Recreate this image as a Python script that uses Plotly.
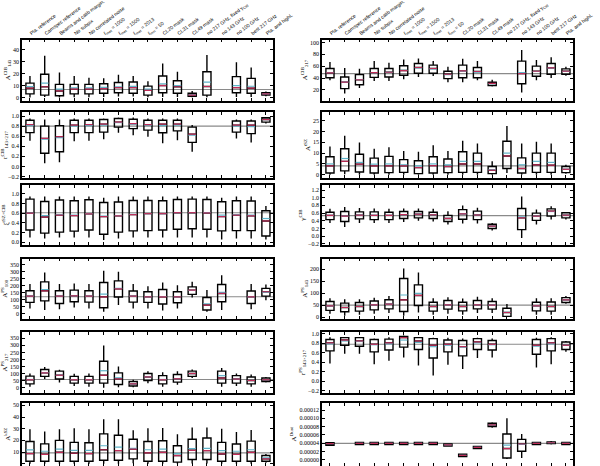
import plotly.graph_objects as go
from plotly.subplots import make_subplots

categories = ["Pla. reference", "Camspec reference", "Beams and calib margin.", "No subpix",
              "No correlated noise", "ℓ<sub>max</sub> = 1000", "ℓ<sub>max</sub> = 1500",
              "ℓ<sub>max</sub> = 2013", "ℓ<sub>min</sub> = 50", "CL20 mask", "CL31 mask", "CL49 mask",
              "no 217 GHz, fixed γ<sub>CIB</sub>", "no 143 GHz", "no 100 GHz", "best 217 GHz",
              "Pla. and highL"]

# each entry: (lower whisker, q1, median, q3, upper whisker, mean); None = not sampled
A_CIB_143 = [(0, 3, 7.8, 12, 18, 9.2), (0.5, 2, 9, 19.5, 35, 12), (0, 1.5, 5.5, 11, 21, 7),
             (0.3, 3, 7, 11, 18, 8), (0.3, 3, 7, 11, 16.5, 8), (0.5, 3.5, 7.5, 11.5, 16, 8.5),
             (0.8, 4, 8.3, 12.5, 19, 9), (0.8, 3.5, 8.3, 13, 18, 9.3), (0.2, 2, 6, 9.5, 13.5, 7),
             (0.5, 4, 10, 18, 28.5, 11.5), (0.5, 3.5, 9, 14, 21.5, 10), (0.3, 1, 2, 3.5, 5.5, 2.2),
             (0.3, 2, 9.2, 21.5, 35.5, 12.8), None, (0.5, 4, 8.3, 17.5, 29.5, 10),
             (0.5, 3.5, 7.8, 16, 25, 9.4), (1, 2, 3, 4, 5, 3.1)]
A_CIB_143_ref = 6.7

A_CIB_217 = [(36, 40.5, 48.5, 56, 67, 49), (14, 22, 33, 41.7, 57, 33), (23, 28.6, 37, 45.7, 55.5, 37.5),
             (35, 41, 49, 56, 68.5, 49), (35, 41.7, 49.7, 56, 65.7, 49.5), (38, 44.6, 52.6, 60.6, 71.4, 52.8),
             (41.7, 48, 57.7, 64.6, 73, 57), (43.4, 48, 56, 61.7, 68.5, 55.5), (33, 38.9, 46.3, 51.4, 59, 45.5),
             (33, 40.5, 52, 61.7, 72.6, 51.5), (36, 40.5, 51, 57.7, 68.5, 50), (25.7, 27.4, 30.9, 33, 37, 30.6),
             None, (15.4, 30.3, 47.4, 68.5, 87.4, 49), (36, 42.9, 51.4, 60, 70.3, 51),
             (40, 46.3, 57, 64.6, 74.9, 56.5), (44, 46.3, 51.4, 55.4, 59, 51)]
A_CIB_217_ref = 47.4

r_CIB = [(0.51, 0.67, 0.83, 0.915, 0.95, 0.81), (0.065, 0.26, 0.556, 0.80, 0.93, 0.54),
         (0.085, 0.29, 0.59, 0.81, 0.93, 0.57), (0.50, 0.67, 0.82, 0.915, 0.95, 0.80),
         (0.51, 0.67, 0.83, 0.915, 0.95, 0.81), (0.54, 0.68, 0.84, 0.93, 0.95, 0.82),
         (0.67, 0.78, 0.88, 0.95, 0.97, 0.87), (0.62, 0.75, 0.85, 0.935, 0.97, 0.84),
         (0.59, 0.72, 0.83, 0.915, 0.95, 0.82), (0.46, 0.667, 0.84, 0.915, 0.95, 0.81),
         (0.52, 0.706, 0.84, 0.915, 0.95, 0.82), (0.29, 0.477, 0.64, 0.78, 0.82, 0.62),
         None, None, (0.556, 0.68, 0.82, 0.90, 0.93, 0.80), (0.477, 0.65, 0.82, 0.90, 0.93, 0.79),
         (0.85, 0.88, 0.93, 0.967, 0.98, 0.93)]
r_CIB_ref = 0.80

A_tSZ = [(0, 0.8, 4.1, 8.3, 13, 5), (0.2, 1.8, 6.2, 12, 18, 7.5), (0, 1.3, 4.9, 9.5, 14.9, 5.7),
         (0, 0.8, 4.1, 7.7, 12, 4.9), (0, 1, 4.1, 8.5, 12.7, 5), (0, 1.1, 4.1, 7, 11, 4.6),
         (0, 0.5, 3.3, 6.5, 10.6, 4.1), (0, 0.8, 4.2, 8.3, 13.6, 5), (0, 1, 3.8, 7.3, 11, 4.6),
         (0, 1.1, 5, 10.6, 15.7, 6.2), (0, 1.1, 5, 10, 14.4, 6.2), (0, 0.5, 2.1, 3.8, 6.2, 2.3),
         (0.8, 2.9, 8.7, 15.5, 22.5, 10), (0, 0.8, 2.9, 7.8, 14.4, 4.6), (0, 1.1, 4.6, 10, 15.2, 6.2),
         (0, 1.1, 4.4, 10, 14.4, 5.7), (0.5, 1, 2.5, 3.8, 4.6, 2.5)]
A_tSZ_ref = 4.1

xi_tSZ_CIB = [(0.1, 0.255, 0.6, 0.89, 0.945, 0.6), (0.08, 0.19, 0.52, 0.84, 0.945, 0.55),
              (0.1, 0.21, 0.56, 0.87, 0.945, 0.57), (0.1, 0.23, 0.55, 0.855, 0.945, 0.56),
              (0.1, 0.255, 0.586, 0.875, 0.945, 0.59), (0.05, 0.165, 0.53, 0.82, 0.92, 0.54),
              (0.08, 0.21, 0.545, 0.83, 0.945, 0.55), (0.1, 0.235, 0.57, 0.86, 0.945, 0.575),
              (0.1, 0.24, 0.59, 0.86, 0.945, 0.59), (0.1, 0.255, 0.59, 0.855, 0.945, 0.59),
              (0.1, 0.27, 0.61, 0.88, 0.945, 0.61), (0.1, 0.28, 0.61, 0.89, 0.945, 0.61),
              (0.1, 0.27, 0.605, 0.88, 0.945, 0.61), (0.06, 0.235, 0.53, 0.835, 0.92, 0.56),
              (0.08, 0.24, 0.56, 0.855, 0.945, 0.57), (0.08, 0.24, 0.545, 0.85, 0.945, 0.56),
              (0.06, 0.13, 0.44, 0.65, 0.75, 0.49)]
xi_tSZ_CIB_ref = 0.61

gamma_CIB = [(0.34, 0.43, 0.54, 0.62, 0.71, 0.54), (0.24, 0.38, 0.52, 0.64, 0.76, 0.52),
             (0.34, 0.45, 0.545, 0.63, 0.73, 0.545), (0.34, 0.43, 0.54, 0.63, 0.72, 0.54),
             (0.34, 0.43, 0.54, 0.62, 0.71, 0.54), (0.37, 0.46, 0.56, 0.64, 0.72, 0.56),
             (0.40, 0.475, 0.57, 0.64, 0.72, 0.57), (0.38, 0.46, 0.555, 0.62, 0.71, 0.555),
             (0.30, 0.38, 0.46, 0.54, 0.65, 0.46), (0.33, 0.44, 0.58, 0.69, 0.80, 0.58),
             (0.33, 0.43, 0.55, 0.65, 0.74, 0.55), (0.15, 0.2, 0.26, 0.31, 0.34, 0.26),
             None, (-0.05, 0.17, 0.475, 0.72, 1.03, 0.5), (0.30, 0.41, 0.52, 0.60, 0.69, 0.52),
             (0.43, 0.52, 0.65, 0.71, 0.78, 0.64), (0.43, 0.475, 0.545, 0.61, 0.63, 0.545)]
gamma_CIB_ref = 0.535

A_PS_100 = [(36, 79, 124, 162, 210, 124), (24, 90, 162, 226, 293, 171), (29, 71, 124, 162, 210, 124),
            (43, 83, 126, 167, 214, 126), (36, 81, 124, 162, 210, 124), (12, 40, 119, 221, 305, 138),
            (60, 117, 176, 233, 298, 179), (36, 81, 124, 160, 210, 124), (36, 79, 119, 155, 195, 119),
            (21, 67, 119, 171, 221, 121), (36, 76, 119, 155, 202, 119), (114, 136, 167, 190, 226, 165),
            (12, 24, 60, 114, 167, 69), (24, 83, 143, 207, 274, 150), None,
            (29, 71, 119, 160, 210, 119), (95, 124, 155, 179, 207, 152)]
A_PS_100_ref = 119

A_PS_143 = [(14, 28, 47, 65, 78, 47), (6, 22, 40, 58, 74, 40), (10, 25, 44, 61, 74, 44),
            (14, 30, 51, 67, 81, 51), (17, 34, 54, 72, 88, 54), (6, 23, 72, 161, 202, 92),
            (19, 48, 90, 134, 186, 99), (10, 25, 44, 62, 78, 44), (14, 33, 51, 69, 83, 51),
            (10, 26, 44, 62, 77, 44), (17, 34, 51, 69, 85, 51), (17, 33, 50, 65, 78, 50),
            (0, 3, 19, 37, 54, 20), None, (10, 26, 47, 62, 78, 47), (10, 25, 44, 63, 78, 44),
            (55, 61, 72, 81, 88, 72)]
A_PS_143_ref = 50

A_PS_217 = [(7, 27, 56, 82, 100, 58), (61, 80, 105, 129, 147, 107), (37, 61, 88, 117, 127, 88),
            (12, 32, 56, 80, 98, 57), (7, 32, 56, 80, 100, 57), (0, 32, 88, 187, 300, 120),
            (2, 22, 62, 105, 150, 70), (2, 12, 27, 44, 56, 27), (32, 51, 76, 100, 117, 76),
            (7, 27, 56, 85, 110, 58), (20, 39, 63, 93, 117, 63), (68, 80, 100, 117, 129, 100),
            None, (7, 32, 68, 117, 139, 85), (12, 32, 61, 85, 100, 61), (7, 27, 51, 76, 93, 51),
            (37, 44, 56, 68, 76, 56)]
A_PS_217_ref = 58

r_PS = [(0.375, 0.64, 0.81, 0.88, 0.93, 0.79), (0.58, 0.76, 0.87, 0.92, 0.93, 0.85),
        (0.58, 0.74, 0.85, 0.92, 0.93, 0.84), (0.36, 0.62, 0.78, 0.88, 0.90, 0.77),
        (0.43, 0.66, 0.81, 0.89, 0.93, 0.79), (0.5, 0.72, 0.92, 0.945, 0.965, 0.87),
        (0.33, 0.67, 0.85, 0.92, 0.93, 0.82), (0.12, 0.49, 0.76, 0.90, 0.92, 0.73),
        (0.35, 0.62, 0.78, 0.87, 0.92, 0.76), (0.26, 0.535, 0.73, 0.86, 0.90, 0.72),
        (0.49, 0.67, 0.83, 0.90, 0.92, 0.81), (0.5, 0.66, 0.78, 0.86, 0.90, 0.77),
        None, None, (0.29, 0.57, 0.76, 0.88, 0.92, 0.74), (0.36, 0.64, 0.81, 0.90, 0.93, 0.79),
        (0.62, 0.67, 0.76, 0.83, 0.85, 0.76)]
r_PS_ref = 0.78

A_kSZ = [(0, 2.2, 8.7, 19, 29.5, 11.8), (0, 2.2, 8.1, 17, 27.5, 10.7), (0, 2.2, 9.8, 20, 29.5, 12.6),
         (0, 2.2, 9, 18.3, 30.3, 11.5), (0, 2.2, 8.7, 18, 29.5, 11.5), (0, 3, 12, 25.6, 38, 15.4),
         (0, 3, 11.2, 24.4, 38, 14.3), (0.5, 4.2, 12.6, 21, 28.7, 13.2), (0, 2.2, 9.3, 19, 30.3, 12),
         (0, 2.2, 9.8, 19.7, 30.6, 12.6), (0, 1.4, 7, 15.4, 25.3, 8.7), (0.3, 3.7, 11.5, 21, 31, 12.9),
         (0.3, 3.7, 11.2, 22, 31, 13.2), (0, 2.2, 8.4, 18.3, 30, 11.2), (0, 2.2, 8.1, 16.9, 27.2, 10.7),
         (0, 2.2, 9.8, 19.4, 28.9, 12), (0.8, 2.2, 4.2, 7, 8.4, 5)]
A_kSZ_ref = 9.3

A_dust = [(3.4e-5, 3.5e-5, 3.9e-5, 4.1e-5, 4.3e-5, 3.9e-5), None,
          (3.5e-5, 3.65e-5, 3.95e-5, 4.15e-5, 4.35e-5, 3.95e-5),
          (3.5e-5, 3.65e-5, 3.95e-5, 4.15e-5, 4.35e-5, 3.95e-5),
          (3.5e-5, 3.65e-5, 3.95e-5, 4.15e-5, 4.35e-5, 3.95e-5),
          (3.5e-5, 3.65e-5, 3.95e-5, 4.15e-5, 4.35e-5, 3.95e-5),
          (3.5e-5, 3.65e-5, 3.95e-5, 4.15e-5, 4.35e-5, 3.95e-5),
          (3.5e-5, 3.65e-5, 3.95e-5, 4.15e-5, 4.35e-5, 3.95e-5),
          (3.1e-5, 3.3e-5, 3.6e-5, 3.8e-5, 4.0e-5, 3.6e-5),
          (0.6e-5, 0.75e-5, 1.07e-5, 1.3e-5, 1.45e-5, 1.07e-5),
          (2.5e-5, 2.7e-5, 3.0e-5, 3.2e-5, 3.4e-5, 3.0e-5),
          (7.7e-5, 8.0e-5, 8.4e-5, 8.8e-5, 9.05e-5, 8.4e-5),
          (0.16e-5, 0.4e-5, 2.7e-5, 6.2e-5, 10.0e-5, 3.5e-5),
          (0.4e-5, 2.05e-5, 3.8e-5, 4.9e-5, 6.2e-5, 3.7e-5),
          (3.5e-5, 3.65e-5, 3.95e-5, 4.15e-5, 4.35e-5, 3.95e-5),
          (3.7e-5, 3.9e-5, 4.1e-5, 4.3e-5, 4.5e-5, 4.1e-5),
          (3.5e-5, 3.65e-5, 3.95e-5, 4.15e-5, 4.35e-5, 3.95e-5)]
A_dust_ref = 3.95e-5

# (row, col, data, reference, title, range, dtick, tickformat)
panels = [
    (1, 1, A_CIB_143, A_CIB_143_ref, "A<sup>CIB</sup><sub>143</sub>", [-2.5, 48.5], 10, None),
    (1, 2, A_CIB_217, A_CIB_217_ref, "A<sup>CIB</sup><sub>217</sub>", [2, 105], 20, None),
    (2, 1, r_CIB, r_CIB_ref, "r<sup>CIB</sup><sub>143×217</sub>", [-0.23, 1.08], 0.2, ".1f"),
    (2, 2, A_tSZ, A_tSZ_ref, "A<sup>tSZ</sup>", [-1.5, 29], 5, None),
    (3, 1, xi_tSZ_CIB, xi_tSZ_CIB_ref, "ξ<sup>tSZ×CIB</sup>", [-0.055, 1.18], 0.2, ".1f"),
    (3, 2, gamma_CIB, gamma_CIB_ref, "γ<sup>CIB</sup>", [-0.23, 1.33], 0.2, ".1f"),
    (4, 1, A_PS_100, A_PS_100_ref, "A<sup>PS</sup><sub>100</sub>", [-40, 393], 50, None),
    (4, 2, A_PS_143, A_PS_143_ref, "A<sup>PS</sup><sub>143</sub>", [-8, 244], 50, None),
    (5, 1, A_PS_217, A_PS_217_ref, "A<sup>PS</sup><sub>217</sub>", [-38, 395], 50, None),
    (5, 2, r_PS, r_PS_ref, "r<sup>PS</sup><sub>143×217</sub>", [-0.25, 1.04], 0.2, ".1f"),
    (6, 1, A_kSZ, A_kSZ_ref, "A<sup>kSZ</sup>", [-1.5, 52], 10, None),
    (6, 2, A_dust, A_dust_ref, "A<sup>Dust</sup>", [-1.4e-5, 1.37e-4], 2e-5, ".5f"),
]

RED = "#c02c58"
TEAL = "#5fb3c8"
BOXW = 0.55

row_px = [(39.5, 100.5), (112, 178), (185, 245), (258.5, 319), (332, 393), (403, 465.5)]
col_px = [(22, 273), (322, 573)]
W, H = 600, 466

fig = make_subplots(rows=6, cols=2)

for (r, c, data, ref, title, yr, dt, tf) in panels:
    idx = [i for i, d in enumerate(data) if d is not None]
    vals = [data[i] for i in idx]
    fig.add_trace(go.Box(
        x=idx,
        lowerfence=[v[0] for v in vals], q1=[v[1] for v in vals], median=[v[2] for v in vals],
        q3=[v[3] for v in vals], upperfence=[v[4] for v in vals],
        width=BOXW, whiskerwidth=0, boxpoints=False,
        line=dict(color="black", width=1.4), fillcolor="rgba(255,255,255,0)",
        showlegend=False, hoverinfo="skip"), row=r, col=c)
    for k, color in ((5, TEAL), (2, RED)):
        xs, ys = [], []
        for i, v in zip(idx, vals):
            xs += [i - BOXW / 2 + 0.02, i + BOXW / 2 - 0.02, None]
            ys += [v[k], v[k], None]
        fig.add_trace(go.Scatter(x=xs, y=ys, mode="lines", line=dict(color=color, width=1.2),
                                 showlegend=False, hoverinfo="skip"), row=r, col=c)
    fig.add_hline(y=ref, line=dict(color="#8a8a8a", width=1.1), layer="below", row=r, col=c)

    n = (r - 1) * 2 + c
    xa = "xaxis" if n == 1 else f"xaxis{n}"
    ya = "yaxis" if n == 1 else f"yaxis{n}"
    top, bot = row_px[r - 1]
    x0, x1 = col_px[c - 1]
    xaxis = dict(domain=[x0 / W, x1 / W], range=[-0.54, 16.48],
                 tickmode="array", tickvals=list(range(len(categories))), ticktext=categories,
                 ticks="inside", ticklen=3, tickwidth=1, tickcolor="black",
                 showline=True, linecolor="black", linewidth=1.6, mirror="ticks",
                 showgrid=False, zeroline=False, automargin=False,
                 showticklabels=(r == 1))
    if r == 1:
        xaxis.update(side="top", tickangle=-37,
                     tickfont=dict(family="Liberation Sans", size=5, color="black"))
    yaxis = dict(domain=[1 - bot / H, 1 - top / H], range=yr, dtick=dt, tick0=0,
                 ticks="inside", ticklen=3, tickwidth=1, tickcolor="black",
                 showline=True, linecolor="black", linewidth=1.6, mirror="ticks",
                 showgrid=False, zeroline=False, automargin=False,
                 tickfont=dict(family="Liberation Serif", size=6, color="black"),
                 title=dict(text=title, standoff=2,
                            font=dict(family="Liberation Serif", size=7, color="black")))
    if tf:
        yaxis["tickformat"] = tf
    fig.layout[xa].update(xaxis)
    fig.layout[ya].update(yaxis)

fig.update_layout(width=W, height=H, template="none",
                  margin=dict(l=0, r=0, t=0, b=0),
                  paper_bgcolor="white", plot_bgcolor="white", showlegend=False)

fig.write_html("out.html", config={"displayModeBar": False},
               post_script="document.body.style.margin='0';document.body.style.overflow='hidden';")
